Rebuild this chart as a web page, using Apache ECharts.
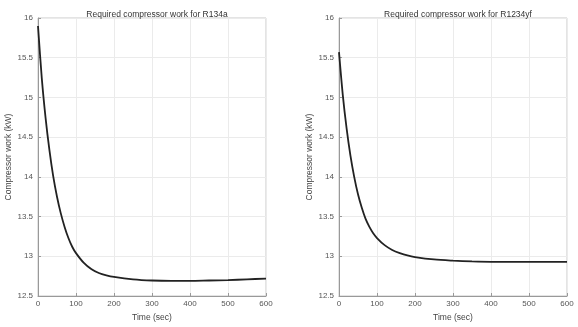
<!DOCTYPE html>
<html>
<head>
<meta charset="utf-8">
<script src="https://cdn.jsdelivr.net/npm/echarts@6/dist/echarts.min.js"></script>
<style>
  html, body { margin: 0; padding: 0; background: #fff; }
  #chart { width: 578px; height: 327px; }
</style>
</head>
<body>
<div id="chart"></div>
<script>
// Time (sec) samples
const timeR134a = [0, 10, 20, 30, 40, 50, 60, 70, 80, 90, 100, 120, 140, 160, 180, 200, 250, 300, 350, 400, 450, 500, 550, 600];
const workR134a = [15.90, 15.24, 14.74, 14.34, 14.01, 13.75, 13.54, 13.37, 13.23, 13.12, 13.04, 12.92, 12.84, 12.79, 12.76, 12.74, 12.71, 12.695, 12.69, 12.69, 12.695, 12.70, 12.71, 12.72];

const timeR1234yf = [0, 10, 20, 30, 40, 50, 60, 70, 80, 90, 100, 120, 140, 160, 180, 200, 250, 300, 350, 400, 500, 600];
const workR1234yf = [15.57, 15.03, 14.61, 14.27, 14.00, 13.78, 13.61, 13.47, 13.37, 13.29, 13.23, 13.14, 13.08, 13.04, 13.01, 12.99, 12.96, 12.945, 12.935, 12.93, 12.93, 12.93];

const xTicks = [0, 100, 200, 300, 400, 500, 600];
const yTicks = [12.5, 13, 13.5, 14, 14.5, 15, 15.5, 16];

const FONT = "Liberation Sans";
const LINE_COLOR = "#222";

function pairs(xs, ys) {
  return xs.map((x, i) => [x, ys[i]]);
}

function xAxisFor(gridIndex) {
  return {
    type: "value",
    gridIndex,
    min: xTicks[0],
    max: xTicks[xTicks.length - 1],
    interval: 100,
    name: "Time (sec)",
    nameLocation: "middle",
    nameGap: 17,
    nameTextStyle: { color: "#444", fontSize: 8.5, fontFamily: FONT },
    axisLine: { show: true, lineStyle: { color: "#999", width: 1 } },
    axisTick: { show: true, inside: true, length: 3, lineStyle: { color: "#999" } },
    axisLabel: { color: "#555", fontSize: 8, fontFamily: FONT, margin: 4 },
    splitLine: { show: true, lineStyle: { color: "#ebebeb", width: 1 } },
  };
}

function yAxisFor(gridIndex) {
  return {
    type: "value",
    gridIndex,
    min: 12.5,
    max: 16,
    interval: 0.5,
    name: "Compressor work (kW)",
    nameLocation: "middle",
    nameGap: 17,
    nameTextStyle: { color: "#444", fontSize: 8.5, fontFamily: FONT, padding: [10, 0, 0, 0] },
    axisLine: { show: true, lineStyle: { color: "#999", width: 1 } },
    axisTick: { show: true, inside: true, length: 3, lineStyle: { color: "#999" } },
    axisLabel: {
      color: "#555",
      fontSize: 8,
      fontFamily: FONT,
      margin: 5,
      formatter: (v) => (yTicks.includes(v) ? String(v) : ""),
    },
    splitLine: { show: true, lineStyle: { color: "#ebebeb", width: 1 } },
  };
}

const chart = echarts.init(document.getElementById("chart"), null, { renderer: "canvas" });

const option = {
  animation: false,
  backgroundColor: "#fff",
  title: [
    {
      text: "Required compressor work for R134a",
      left: 152,
      top: 5,
      textAlign: "center",
      textStyle: { color: "#333", fontSize: 8.5, fontWeight: "normal", fontFamily: FONT },
    },
    {
      text: "Required compressor work for R1234yf",
      left: 453,
      top: 5,
      textAlign: "center",
      textStyle: { color: "#333", fontSize: 8.5, fontWeight: "normal", fontFamily: FONT },
    },
  ],
  grid: [
    { left: 38, right: 312, top: 18, bottom: 27, show: true, borderColor: "#c8c8c8", borderWidth: 1 },
    { left: 339, right: 11, top: 18, bottom: 27, show: true, borderColor: "#c8c8c8", borderWidth: 1 },
  ],
  xAxis: [xAxisFor(0), xAxisFor(1)],
  yAxis: [yAxisFor(0), yAxisFor(1)],
  series: [
    {
      name: "R134a",
      type: "line",
      xAxisIndex: 0,
      yAxisIndex: 0,
      data: pairs(timeR134a, workR134a),
      smooth: 0.3,
      symbol: "none",
      lineStyle: { color: LINE_COLOR, width: 1.8 },
    },
    {
      name: "R1234yf",
      type: "line",
      xAxisIndex: 1,
      yAxisIndex: 1,
      data: pairs(timeR1234yf, workR1234yf),
      smooth: 0.3,
      symbol: "none",
      lineStyle: { color: LINE_COLOR, width: 1.8 },
    },
  ],
};

chart.setOption(option);
</script>
</body>
</html>
